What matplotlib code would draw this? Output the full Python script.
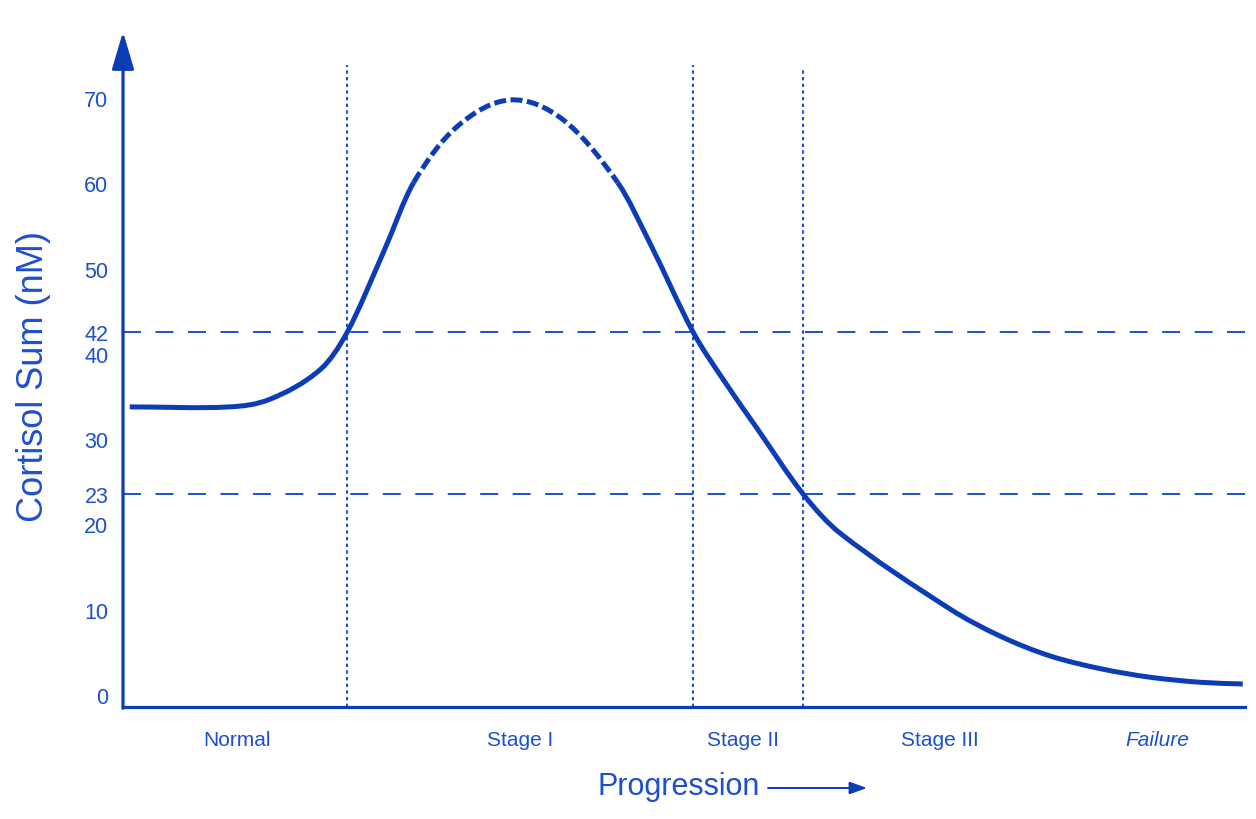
import numpy as np
import matplotlib
matplotlib.use("Agg")
import matplotlib.pyplot as plt
from matplotlib.path import Path
from matplotlib.patches import PathPatch
from matplotlib.transforms import ScaledTranslation

plt.rcParams['font.family'] = ['Liberation Sans', 'DejaVu Sans']

# curve (progression 0-100, cortisol nM)
curve_x = [0.6, 9.5, 13.1, 17.6, 20.0, 23.2, 25.9, 29.8, 34.5, 39.2, 44.1,
           47.0, 50.8, 53.5, 56.5, 60.6, 63.9, 73.7, 78.2, 82.6, 87.1, 91.5, 96.0, 99.8]
curve_y = [33.2, 33.2, 34.1, 37.6, 42.0, 51.3, 59.5, 66.1, 69.2, 66.9, 59.5,
           52.3, 42.0, 36.4, 30.7, 23.0, 18.4, 9.5, 6.3, 4.0, 2.5, 1.5, 0.9, 0.7]
dash_above = 59.5

thresholds = [42, 23]
stage_bounds = [20.0, 50.8, 60.6]
stage_tops = [73.3, 73.3, 72.9]

yticks = [0, 10, 20, 23, 30, 40, 42, 50, 60, 70]
stage_labels = ["Normal", "Stage I", "Stage II", "Stage III", "Failure"]
stage_label_x = [10.2, 35.4, 55.3, 72.8, 92.2]

line_c = '#0c3cb6'
text_c = '#1d4fd0'


def smooth_path(xs, ys, i0, i1):
    # cubic hermite through the read points, drawn as bezier segments
    xs = np.asarray(xs, float)
    ys = np.asarray(ys, float)
    n = len(xs)
    m = np.empty(n)
    m[0] = (ys[1] - ys[0]) / (xs[1] - xs[0])
    m[-1] = (ys[-1] - ys[-2]) / (xs[-1] - xs[-2])
    m[1:-1] = (ys[2:] - ys[:-2]) / (xs[2:] - xs[:-2])
    verts = [(xs[i0], ys[i0])]
    codes = [Path.MOVETO]
    for i in range(i0, i1):
        h = xs[i + 1] - xs[i]
        verts += [(xs[i] + h / 3, ys[i] + m[i] * h / 3),
                  (xs[i + 1] - h / 3, ys[i + 1] - m[i + 1] * h / 3),
                  (xs[i + 1], ys[i + 1])]
        codes += [Path.CURVE4] * 3
    return Path(verts, codes)


fig = plt.figure(figsize=(12.56, 8.2), dpi=100)
ax = fig.add_axes([123 / 1256, 1 - 708 / 820, 1122 / 1256, 671 / 820])
ax.set_xlim(0, 100)
ax.set_ylim(-2.0, 76.7)

above = [i for i, v in enumerate(curve_y) if v >= dash_above]
k1, k2 = above[0], above[-1]
last = len(curve_x) - 1
for a, b, ls in [(0, k1, 'solid'), (k1, k2, (0, (2.4, 0.9))), (k2, last, 'solid')]:
    ax.add_patch(PathPatch(smooth_path(curve_x, curve_y, a, b), fill=False,
                           edgecolor=line_c, lw=3.6, linestyle=ls,
                           capstyle='butt', zorder=4))

ax.hlines(thresholds, 0, 100, colors=text_c, lw=1.4, linestyles=[(0, (9.26, 7.44))], zorder=2)
ax.vlines(stage_bounds, -2.0, stage_tops, colors=text_c, lw=1.5,
          linestyles=[(0, (1.6, 1.6))], zorder=2)

for s in ['top', 'right', 'left']:
    ax.spines[s].set_visible(False)
ax.spines['bottom'].set_color(line_c)
ax.spines['bottom'].set_linewidth(2.3)

ax.annotate('', xy=(0, 77.2), xytext=(0, -2.15), xycoords='data',
            arrowprops=dict(arrowstyle='-|>,head_length=1.15,head_width=0.34',
                            mutation_scale=20, color=line_c, lw=2.3,
                            shrinkA=0, shrinkB=0),
            annotation_clip=False)

ax.set_xticks([])
ax.set_yticks(yticks)
ax.set_yticklabels([str(t) for t in yticks])
ax.tick_params(axis='y', length=0, pad=10.5, labelsize=15.5, labelcolor=text_c)
shift = ScaledTranslation(0, -5 / 100, fig.dpi_scale_trans)
for t, lab in zip(yticks, ax.get_yticklabels()):
    if t not in thresholds:
        lab.set_transform(lab.get_transform() + shift)

for lx, lab in zip(stage_label_x, stage_labels):
    ax.text(lx, -6.5, lab, ha='center', va='baseline', fontsize=15, color=text_c,
            style='italic' if lab == "Failure" else 'normal', clip_on=False)

fig.text(34 / 1256, 1 - 376 / 820, "Cortisol Sum (nM)", rotation=90,
         ha='center', va='center', fontsize=26, color=text_c)
fig.text(679 / 1256, 1 - 795 / 820, "Progression", ha='center', va='baseline',
         fontsize=22, color=text_c)
ax.annotate('', xy=(867 / 1256, 1 - 789 / 820), xytext=(768 / 1256, 1 - 789 / 820),
            xycoords='figure fraction', textcoords='figure fraction',
            arrowprops=dict(arrowstyle='-|>,head_length=0.7,head_width=0.25',
                            mutation_scale=15, color=line_c, lw=1.4,
                            shrinkA=0, shrinkB=0))

fig.savefig('out.png', dpi=100, facecolor='white')
